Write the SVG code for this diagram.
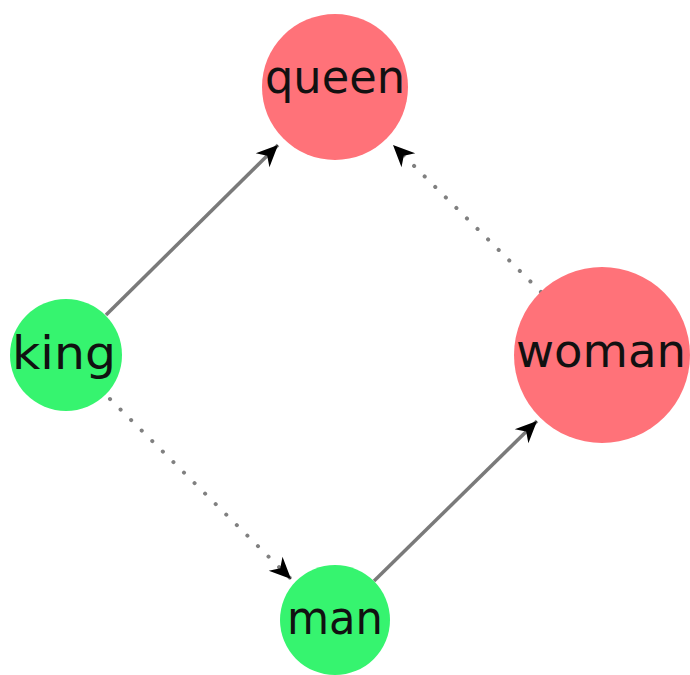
<svg xmlns="http://www.w3.org/2000/svg" width="690" height="675" viewBox="0 0 690 675">
<style>
.red{fill:#ff7279}
.green{fill:#36f46f}
.lbl{font-family:"DejaVu Sans",sans-serif;font-size:46px;fill:#111;text-anchor:middle}
.edge{stroke:#7a7a7a;stroke-width:3.5;fill:none}
.dot{stroke:#808080;stroke-width:4;fill:none;stroke-dasharray:0.1 14.8;stroke-linecap:round}
</style>
<defs>
<marker id="arr" markerUnits="userSpaceOnUse" markerWidth="26" markerHeight="26" viewBox="-22 -11 24 22" refX="0" refY="0" orient="auto">
<path d="M0,0 L-20,-9 L-14,0 L-20,9 Z" fill="#000"/>
</marker>
</defs>
<rect width="690" height="675" fill="#fff"/>
<g id="connectors">
<line class="edge" x1="106" y1="315" x2="278" y2="145" marker-end="url(#arr)"/>
<line class="dot" x1="110" y1="399" x2="291" y2="579" marker-end="url(#arr)"/>
<line class="edge" x1="374" y1="581" x2="537" y2="421" marker-end="url(#arr)"/>
<line class="dot" x1="541" y1="292" x2="393" y2="145" marker-end="url(#arr)"/>
</g>
<g id="queen"><circle class="red" cx="335" cy="87" r="73"/><text class="lbl" x="335" y="93" textLength="140" lengthAdjust="spacingAndGlyphs">queen</text></g>
<g id="king"><circle class="green" cx="66" cy="355" r="56"/><text class="lbl" x="64" y="369" textLength="104" lengthAdjust="spacingAndGlyphs">king</text></g>
<g id="woman"><circle class="red" cx="602" cy="355" r="88"/><text class="lbl" x="601" y="367" textLength="170" lengthAdjust="spacingAndGlyphs">woman</text></g>
<g id="man"><circle class="green" cx="335" cy="620" r="55"/><text class="lbl" x="335" y="634" textLength="96" lengthAdjust="spacingAndGlyphs">man</text></g>
</svg>
